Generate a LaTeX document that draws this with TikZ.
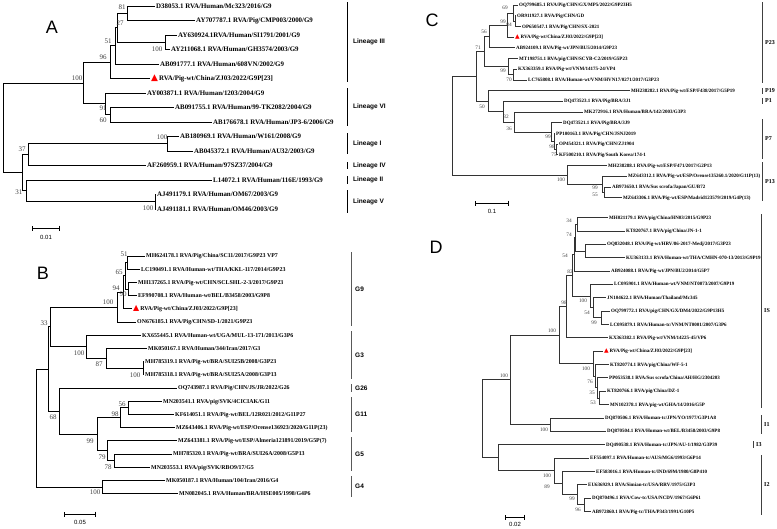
\documentclass[tikz,border=0pt]{standalone}
\usepackage{fontspec}
\setmainfont{Liberation Serif}
\newfontfamily\lsans{Liberation Sans}
\newfontfamily\trifont{DejaVu Sans}
\usetikzlibrary{arrows.meta}

\newcommand{\redtri}[1]{{\trifont\fontsize{#1}{#1}\selectfont\color{red}▲}}

\tikzset{
    branchA/.style = {line width = 1pt},
    branchC/.style = {line width = .7pt, draw = black!80},
    leafA/.style = {anchor = west, inner xsep = 1pt, inner ysep = 0pt, text height = 5.9pt, text depth = 1.4pt, font = \bfseries\fontsize{6.9}{7}\selectfont},
    leafB/.style = {leafA, text height = 5.1pt, text depth = 1.2pt, font = \bfseries\fontsize{5.9}{6}\selectfont},
    leafC/.style = {leafA, text height = 4.3pt, text depth = 1pt, font = \bfseries\fontsize{5}{5}\selectfont},
    bsA/.style = {inner sep = 0pt, text = black!75, font = \fontsize{7}{7}\selectfont},
    bsC/.style = {bsA, font = \fontsize{5.3}{5.3}\selectfont},
    grpA/.style = {anchor = west, inner sep = 0pt, font = \lsans\bfseries\fontsize{6.5}{6.5}\selectfont},
    grpC/.style = {anchor = west, inner sep = 0pt, font = \bfseries\fontsize{6}{6}\selectfont},
    barA/.style = {line width = 1pt},
    barB/.style = {line width = 1pt, draw = black!65},
    barC/.style = {line width = .8pt, draw = black!75},
    scalebar/.style = {{Bar[width = 5pt]}-{Bar[width = 5pt]}, line width = .8pt},
    scaletext/.style = {inner sep = 0pt, font = \lsans\fontsize{6}{6}\selectfont},
    panel/.style = {inner sep = 0pt, font = \lsans\fontsize{18}{18}\selectfont}
}

\begin{document}
\begin{tikzpicture}[x = 1pt, y = -1pt]
    \useasboundingbox (0,0) rectangle (777,528);

    % Panel A: the VP7 lineages
    \node [panel] (pA) at (52,27) {A};

    \node [leafA] (a0)  at (155,6)     {D38053.1 RVA/Human/Mc323/2016/G9};
    \node [leafA] (a1)  at (195,20.5)  {AY707787.1 RVA/Pig/CMP003/2000/G9};
    \node [leafA] (a2)  at (177,35)    {AY630924.1RVA/Human/SI1791/2001/G9};
    \node [leafA] (a3)  at (170,49.5)  {AY211068.1 RVA/Human/GH3574/2003/G9};
    \node [leafA] (a4)  at (159,64)    {AB091777.1 RVA/Human/608VN/2002/G9};
    \node [leafA] (a5)  at (150,78.5)  {\redtri{9}\hspace{1pt}RVA/Pig-wt/China/ZJ03/2022/G9P[23]};
    \node [leafA] (a6)  at (146,93)    {AY003871.1 RVA/Human/1203/2004/G9};
    \node [leafA] (a7)  at (174,107.5) {AB091755.1 RVA/Human/99-TK2082/2004/G9};
    \node [leafA] (a8)  at (212,122)   {AB176678.1 RVA/Human/JP3-6/2006/G9};
    \node [leafA] (a9)  at (179,136.5) {AB180969.1 RVA/Human/W161/2008/G9};
    \node [leafA] (a10) at (193,151)   {AB045372.1 RVA/Human/AU32/2003/G9};
    \node [leafA] (a11) at (146,165.5) {AF260959.1 RVA/Human/97SZ37/2004/G9};
    \node [leafA] (a12) at (212,180)   {L14072.1 RVA/Human/116E/1993/G9};
    \node [leafA] (a13) at (156,194.5) {AJ491179.1 RVA/Human/OM67/2003/G9};
    \node [leafA] (a14) at (156,209)   {AJ491181.1 RVA/Human/OM46/2003/G9};

    \coordinate (nA81)   at (127,13.25);
    \coordinate (nA100b) at (165,42.25);
    \coordinate (nA27)   at (117,27.75);
    \coordinate (nA51)   at (115,45.9);
    \coordinate (nA96)   at (110,62.2);
    \coordinate (nA60)   at (110,114.75);
    \coordinate (nA91)   at (105,103.9);
    \coordinate (nA100)  at (83,83);
    \coordinate (nA100c) at (167,143.75);
    \coordinate (nA37)   at (28,154.6);
    \coordinate (nA100d) at (155,201.75);
    \coordinate (nA31)   at (26,190.9);
    \coordinate (nA0)    at (22,172.75);
    \coordinate (rA)     at (3,127.9);

    \foreach \p/\c in {nA81/a0.west, nA81/a1.west, nA100b/a2.west, nA100b/a3.west,
            nA27/nA81, nA27/nA100b, nA51/nA27, nA51/a4.west, nA96/nA51, nA96/a5.west,
            nA60/a7.west, nA60/a8.west, nA91/a6.west, nA91/nA60, nA100/nA96, nA100/nA91,
            nA100c/a9.west, nA100c/a10.west, nA37/nA100c, nA37/a11.west,
            nA100d/a13.west, nA100d/a14.west, nA31/a12.west, nA31/nA100d,
            nA0/nA37, nA0/nA31, rA/nA100, rA/nA0}
        \draw [branchA] (\p) |- (\c);

    \node [bsA] (bA81)   at (122,7)   {81};
    \node [bsA] (bA27)   at (120,23)  {27};
    \node [bsA] (bA51)   at (108,41)  {51};
    \node [bsA] (bA100b) at (157,49)  {100};
    \node [bsA] (bA96)   at (103,57)  {96};
    \node [bsA] (bA100)  at (77,78)   {100};
    \node [bsA] (bA91)   at (103,108) {91};
    \node [bsA] (bA60)   at (103,120) {60};
    \node [bsA] (bA100c) at (162,137) {100};
    \node [bsA] (bA37)   at (22,149)  {37};
    \node [bsA] (bA31)   at (19,192)  {31};
    \node [bsA] (bA100d) at (148,208) {100};

    \foreach \t/\b/\txt [count = \i] in {2/82/Lineage III, 88/126/Lineage VI, 133/154/Lineage I,
            162/169/Lineage IV, 176/184/Lineage II, 190/213/Lineage V} {
        \draw [barA] (347,\t) -- (347,\b);
        \node [grpA] (gA\i) at (353,{(\t+\b)/2}) {\txt};
    }

    \draw [scalebar] (32,228) -- (60,228);
    \node [scaletext] (sA) at (46,237) {0.01};

    % Panel B: the VP7 genotypes
    \node [panel] (pB) at (43,273) {B};

    \node [leafB] (b0)  at (145,256)   {MH624178.1 RVA/Pig/China/SC11/2017/G9P23 VP7};
    \node [leafB] (b1)  at (140,269.2) {LC190491.1 RVA/Human-wt/THA/KKL-117/2014/G9P23};
    \node [leafB] (b2)  at (137,282.4) {MH137265.1 RVA/Pig-wt/CHN/SCLSHL-2-3/2017/G9P23};
    \node [leafB] (b3)  at (137,295.6) {EF990708.1 RVA/Human-wt/BEL/B3458/2003/G9P8};
    \node [leafB] (b4)  at (132,308.8) {\redtri{8}\hspace{1pt}RVA/Pig-wt/China/ZJ03/2022/G9P[23]};
    \node [leafB] (b5)  at (136,322)   {ON676185.1 RVA/Pig/CHN/SD-1/2021/G9P23};
    \node [leafB] (b6)  at (141,335.2) {KX655445.1 RVA/Human-wt/UGA/MUL-13-171/2013/G3P6};
    \node [leafB] (b7)  at (147,348.4) {MK050167.1 RVA/Human/344/Iran/2017/G3};
    \node [leafB] (b8)  at (144,361.6) {MH785319.1 RVA/Pig-wt/BRA/SUI25B/2008/G3P23};
    \node [leafB] (b9)  at (144,374.8) {MH785318.1 RVA/Pig-wt/BRA/SUI25A/2008/G3P13};
    \node [leafB] (b10) at (177,388)   {OQ743987.1 RVA/Pig/CHN/JS/JR/2022/G26};
    \node [leafB] (b11) at (162,401.2) {MN203541.1 RVA/pig/SVK/4CICIAK/G11};
    \node [leafB] (b12) at (174,414.4) {KF614051.1 RVA/Pig-wt/BEL/12R021/2012/G11P27};
    \node [leafB] (b13) at (175,427.6) {MZ643406.1 RVA/Pig-wt/ESP/Orense136923/2020/G11P(23)};
    \node [leafB] (b14) at (177,440.8) {MZ643381.1 RVA/Pig-wt/ESP/Almeria121891/2019/G5P(7)};
    \node [leafB] (b15) at (172,454)   {MH785320.1 RVA/Pig-wt/BRA/SUI26A/2008/G5P13};
    \node [leafB] (b16) at (150,467.2) {MN203553.1 RVA/pig/SVK/RBO9/17/G5};
    \node [leafB] (b17) at (165,480.4) {MK050187.1 RVA/Human/104/Iran/2016/G4};
    \node [leafB] (b18) at (178,493.6) {MN082045.1 RVA/Human/BRA/HSE005/1998/G4P6};

    \coordinate (nB51)   at (127,262.6);
    \coordinate (nB90)   at (128,289);
    \coordinate (nB65)   at (125,275.8);
    \coordinate (nB94)   at (123,292.3);
    \coordinate (nB100)  at (117,307.15);
    \coordinate (nB100c) at (143,368.2);
    \coordinate (nB87)   at (106,358.3);
    \coordinate (nB100g) at (86,346.75);
    \coordinate (nB33)   at (50,326.95);
    \coordinate (nB56)   at (128,407.8);
    \coordinate (nB98)   at (120,417.7);
    \coordinate (nB78)   at (114,460.6);
    \coordinate (nB79)   at (107,450.7);
    \coordinate (nB99)   at (97,434.2);
    \coordinate (nB68)   at (59,411.1);
    \coordinate (nB0)    at (48,369);
    \coordinate (nB100h) at (102,487);
    \coordinate (rB)     at (36,428);

    \foreach \p/\c in {nB51/b0.west, nB51/b1.west, nB90/b2.west, nB90/b3.west,
            nB65/nB51, nB65/nB90, nB94/nB65, nB94/b4.west, nB100/nB94, nB100/b5.west,
            nB100c/b8.west, nB100c/b9.west, nB87/b7.west, nB87/nB100c,
            nB100g/b6.west, nB100g/nB87, nB33/nB100, nB33/nB100g,
            nB56/b11.west, nB56/b12.west, nB98/nB56, nB98/b13.west,
            nB78/b15.west, nB78/b16.west, nB79/b14.west, nB79/nB78,
            nB99/nB98, nB99/nB79, nB68/b10.west, nB68/nB99, nB0/nB33, nB0/nB68,
            nB100h/b17.west, nB100h/b18.west, rB/nB0, rB/nB100h}
        \draw [branchA] (\p) |- (\c);

    \node [bsA] (bB51)   at (124,254)   {51};
    \node [bsA] (bB65)   at (119,272.3) {65};
    \node [bsA] (bB94)   at (116,288.5) {94};
    \node [bsA] (bB90)   at (123,294.6) {90};
    \node [bsA] (bB100)  at (108,302.7) {100};
    \node [bsA] (bB33)   at (44,323)    {33};
    \node [bsA] (bB100g) at (79,353.5)  {100};
    \node [bsA] (bB87)   at (99,364.6)  {87};
    \node [bsA] (bB100c) at (135,374.8) {100};
    \node [bsA] (bB56)   at (122,404.2) {56};
    \node [bsA] (bB98)   at (115,414.4) {98};
    \node [bsA] (bB68)   at (53,417.4)  {68};
    \node [bsA] (bB99)   at (90,440.8)  {99};
    \node [bsA] (bB79)   at (102,457)   {79};
    \node [bsA] (bB78)   at (108,467.2) {78};
    \node [bsA] (bB100h) at (95,492.6)  {100};

    \foreach \t/\b/\txt [count = \i] in {252/326/G9, 331/379/G3, 384/392/G26,
            397/432/G11, 437/471/G5, 476/497/G4} {
        \draw [barB] (351,\t) -- (351,\b);
        \node [grpA] (gB\i) at (355,{(\t+\b)/2}) {\txt};
    }

    \draw [scalebar] (64,514) -- (96,514);
    \node [scaletext] (sB) at (80,522) {0.05};

    % Panel C: the VP4 genotypes
    \node [panel] (pC) at (432,20) {C};

    \node [leafC] (c0)  at (518,5)     {OQ799685.1 RVA/Pig/CHN/GX/MP5/2022/G9P23H5};
    \node [leafC] (c1)  at (516,15.7)  {OR911927.1 RVA/Pig/CHN/GD};
    \node [leafC] (c2)  at (521,26.4)  {OP650547.1 RVA/Pig/CHN/SX-2021};
    \node [leafC] (c3)  at (514,37.1)  {\redtri{6}\hspace{.8pt}RVA/Pig-wt/China/ZJ03/2022/G9P[23]};
    \node [leafC] (c4)  at (515,47.8)  {AB924109.1 RVA/Pig-wt/JPN/BU5/2014/G9P23};
    \node [leafC] (c5)  at (518,58.5)  {MT198751.1 RVA/pig/CHN/SCYB-C2/2019/G5P23};
    \node [leafC] (c6)  at (517,69.2)  {KX363359.1 RVA/Pig-wt/VNM/14175-24/VP4};
    \node [leafC] (c7)  at (527,79.9)  {LC765808.1 RVA/Human-wt/VNM/HVN17/0271/2017/G3P23};
    \node [leafC] (c8)  at (630,90.6)  {MH238282.1 RVA/Pig-wt/ESP/F438/2017/G5P19};
    \node [leafC] (c9)  at (563,101.3) {DQ473523.1 RVA/Pig/BRA/3J1};
    \node [leafC] (c10) at (583,112)   {MK272916.1 RVA/Human/BRA/142/2003/G3P3};
    \node [leafC] (c11) at (562,122.7) {DQ473521.1 RVA/Pig/BRA/3J9};
    \node [leafC] (c12) at (555,133.4) {PP100163.1 RVA/Pig/CHN/JSNJ2019};
    \node [leafC] (c13) at (558,144.1) {OP454321.1 RVA/Pig/CHN/ZJ1904};
    \node [leafC] (c14) at (558,154.8) {KF500210.1 RVA/Pig/South Korea/174-1};
    \node [leafC] (c15) at (607,165.5) {MH238288.1 RVA/Pig-wt/ESP/F471/2017/G2P13};
    \node [leafC] (c16) at (627,176.2) {MZ643312.1 RVA/Pig-wt/ESP/Orense135260.1/2020/G11P(13)};
    \node [leafC] (c17) at (611,186.9) {AB973650.1 RVA/Sus scrofa/Japan/GU/B72};
    \node [leafC] (c18) at (622,197.6) {MZ643306.1 RVA/Pig-wt/ESP/Madrid123579/2019/G4P(13)};

    \coordinate (nC84)  at (515,21.05);
    \coordinate (nC69)  at (513,13);
    \coordinate (nC99a) at (507,25.05);
    \coordinate (nC56)  at (489,36.4);
    \coordinate (nC70)  at (513,74.55);
    \coordinate (nC99b) at (508,66.5);
    \coordinate (nC71)  at (484,51.5);
    \coordinate (nC75)  at (556,149.45);
    \coordinate (nC98)  at (554,141.4);
    \coordinate (nC99c) at (551,132.05);
    \coordinate (nC36)  at (514,122);
    \coordinate (nC32)  at (503,111.65);
    \coordinate (nC50)  at (488,101.1);
    \coordinate (nCt)   at (476,76.3);
    \coordinate (nC55)  at (604,192.25);
    \coordinate (nC99d) at (602,184.2);
    \coordinate (nC100) at (567,174.85);
    \coordinate (rC)    at (452,125.6);

    \foreach \p/\c in {nC84/c1.west, nC84/c2.west, nC69/c0.west, nC69/nC84,
            nC99a/nC69, nC99a/c3.west, nC56/nC99a, nC56/c4.west,
            nC70/c6.west, nC70/c7.west, nC99b/c5.west, nC99b/nC70, nC71/nC56, nC71/nC99b,
            nC75/c13.west, nC75/c14.west, nC98/c12.west, nC98/nC75, nC99c/c11.west, nC99c/nC98,
            nC36/c10.west, nC36/nC99c, nC32/c9.west, nC32/nC36, nC50/c8.west, nC50/nC32,
            nCt/nC71, nCt/nC50, nC55/c17.west, nC55/c18.west, nC99d/c16.west, nC99d/nC55,
            nC100/c15.west, nC100/nC99d, rC/nCt, rC/nC100}
        \draw [branchC] (\p) |- (\c);

    \node [bsC] (bC69)  at (505,8)   {69};
    \node [bsC] (bC99a) at (503,22)  {99};
    \node [bsC] (bC84)  at (509,25)  {84};
    \node [bsC] (bC56)  at (484,32)  {56};
    \node [bsC] (bC71)  at (478,48)  {71};
    \node [bsC] (bC99b) at (503,71)  {99};
    \node [bsC] (bC70)  at (509,80)  {70};
    \node [bsC] (bC50)  at (482,107) {50};
    \node [bsC] (bC32)  at (506,117) {32};
    \node [bsC] (bC36)  at (509,129) {36};
    \node [bsC] (bC99c) at (548,137) {99};
    \node [bsC] (bC98)  at (552,147) {98};
    \node [bsC] (bC75)  at (554,155) {75};
    \node [bsC] (bC100) at (561,180) {100};
    \node [bsC] (bC99d) at (595,188) {99};
    \node [bsC] (bC55)  at (595,195) {55};

    \foreach \t/\b/\txt [count = \i] in {2/83/P23, 88/94/P19, 98/104/P1, 119/159/P7, 162/201/P13} {
        \draw [barC] (762,\t) -- (762,\b);
        \node [grpC] (gC\i) at (765,{(\t+\b)/2}) {\txt};
    }

    \draw [scalebar] (475,203) -- (509,203);
    \node [scaletext] (sC) at (492,211) {0.1};

    % Panel D: the VP6 genotypes
    \node [panel] (pD) at (436,247) {D};

    \node [leafC] (d0)  at (608,217.5) {MH021179.1 RVA/pig/China/HN03/2015/G9P23};
    \node [leafC] (d1)  at (625,230.9) {KT820767.1 RVA/pig/China/JN-1-1};
    \node [leafC] (d2)  at (606,244.2) {OQ832048.1 RVA/Pig-wt/HRV/86-2017-Medj/2017/G3P23};
    \node [leafC] (d3)  at (625,257.6) {KU363133.1 RVA/Human-wt/THA/CMHN-070-13/2013/G9P19};
    \node [leafC] (d4)  at (610,270.9) {AB924088.1 RVA/Pig-wt/JPN/BU2/2014/G5P7};
    \node [leafC] (d5)  at (613,284.3) {LC095901.1 RVA/Human-wt/VNM/NT0073/2007/G9P19};
    \node [leafC] (d6)  at (606,297.7) {JN104622.1 RVA/Human/Thailand/Mc345};
    \node [leafC] (d7)  at (610,311)   {OQ799772.1 RVA/pig/CHN/GX/DM4/2022/G9P13H5};
    \node [leafC] (d8)  at (609,324.4) {LC095879.1 RVA/Human-tc/VNM/NT0001/2007/G3P6};
    \node [leafC] (d9)  at (608,337.7) {KX363382.1 RVA/Pig-wt/VNM/14225-45/VP6};
    \node [leafC] (d10) at (603,351.1) {\redtri{6}\hspace{.8pt}RVA/Pig-wt/China/ZJ03/2022/G9P[23]};
    \node [leafC] (d11) at (609,364.5) {KT820774.1 RVA/pig/China/WF-5-1};
    \node [leafC] (d12) at (608,377.8) {PP053538.1 RVA/Sus scrofa/China/AH/HG/2304203};
    \node [leafC] (d13) at (606,391.2) {KT820766.1 RVA/pig/China/DZ-1};
    \node [leafC] (d14) at (609,404.5) {MN102378.1 RVA/pig-wt/GHA/14/2016/G5P};
    \node [leafC] (d15) at (604,417.9) {DQ870506.1 RVA/Human-tc/JPN/YO/1977/G3P1A8};
    \node [leafC] (d16) at (606,431.3) {DQ870504.1 RVA/Human-wt/BEL/B3458/2003/G9P8};
    \node [leafC] (d17) at (605,444.6) {DQ490538.1 RVA/Human-tc/JPN/AU-1/1982/G3P39};
    \node [leafC] (d18) at (589,458)   {EF554097.1 RVA/Human-tc/AUS/MG6/1993/G6P14};
    \node [leafC] (d19) at (595,471.4) {EF583016.1 RVA/Human-tc/IND/69M/1980/G8P410};
    \node [leafC] (d20) at (587,484.8) {EU636929.1 RVA/Simian-tc/USA/RRV/1975/G3P3};
    \node [leafC] (d21) at (591,498.1) {DQ870496.1 RVA/Cow-tc/USA/NCDV/1967/G6P61};
    \node [leafC] (d22) at (591,511.5) {AB972860.1 RVA/Pig-tc/THA/P343/1991/G10P5};

    \coordinate (nD34)   at (577,224.2);
    \coordinate (nD62)   at (585,250.9);
    \coordinate (nD74)   at (575,237.55);
    \coordinate (nD54)   at (574,254.2);
    \coordinate (nD99a)  at (601,317.7);
    \coordinate (nD54b)  at (593,307.7);
    \coordinate (nD100a) at (590,296);
    \coordinate (nD82)   at (572,275.1);
    \coordinate (nD98)   at (566,306.4);
    \coordinate (nD53)   at (599,397.85);
    \coordinate (nD35)   at (597,387.8);
    \coordinate (nD76)   at (595,376.2);
    \coordinate (nD100z) at (593,363.6);
    \coordinate (nDIS)   at (559,335);
    \coordinate (nDI1)   at (550,424.6);
    \coordinate (nD100r) at (510,379.8);
    \coordinate (nD96)   at (584,504.8);
    \coordinate (nD99)   at (577,494.8);
    \coordinate (nD89)   at (562,483.1);
    \coordinate (nD100i) at (554,470.5);
    \coordinate (nDI3)   at (498,457.6);
    \coordinate (rD)     at (482,418.7);

    \foreach \p/\c in {nD34/d0.west, nD34/d1.west, nD62/d2.west, nD62/d3.west,
            nD74/nD34, nD74/nD62, nD54/nD74, nD54/d4.west,
            nD99a/d7.west, nD99a/d8.west, nD54b/d6.west, nD54b/nD99a,
            nD100a/d5.west, nD100a/nD54b, nD82/nD54, nD82/nD100a, nD98/nD82, nD98/d9.west,
            nD53/d13.west, nD53/d14.west, nD35/d12.west, nD35/nD53, nD76/d11.west, nD76/nD35,
            nD100z/d10.west, nD100z/nD76, nDIS/nD98, nDIS/nD100z,
            nDI1/d15.west, nDI1/d16.west, nD100r/nDIS, nD100r/nDI1,
            nD96/d21.west, nD96/d22.west, nD99/d20.west, nD99/nD96, nD89/d19.west, nD89/nD99,
            nD100i/d18.west, nD100i/nD89, nDI3/d17.west, nDI3/nD100i, rD/nD100r, rD/nDI3}
        \draw [branchC] (\p) |- (\c);

    \node [bsC] (bD34)   at (569,221) {34};
    \node [bsC] (bD74)   at (569,235) {74};
    \node [bsC] (bD54)   at (565,256) {54};
    \node [bsC] (bD82)   at (570,272) {82};
    \node [bsC] (bD100a) at (583,301) {100};
    \node [bsC] (bD98)   at (564,303) {98};
    \node [bsC] (bD54b)  at (587,313) {54};
    \node [bsC] (bD99a)  at (594,323) {99};
    \node [bsC] (bDIS)   at (552,331) {100};
    \node [bsC] (bD100z) at (586,369) {100};
    \node [bsC] (bD76)   at (590,382) {76};
    \node [bsC] (bD35)   at (592,393) {35};
    \node [bsC] (bD53)   at (593,403) {53};
    \node [bsC] (bD100r) at (504,376) {100};
    \node [bsC] (bDI1)   at (544,430) {100};
    \node [bsC] (bD100i) at (547,476) {100};
    \node [bsC] (bD89)   at (547,487) {89};
    \node [bsC] (bD99)   at (572,499) {99};
    \node [bsC] (bD96)   at (578,510) {96};

    \foreach \x/\t/\b/\txt [count = \i] in {761/214/408/IS, 761/415/434/I1, 753/441/448/I3, 761/455/515/I2} {
        \draw [barC] (\x,\t) -- (\x,\b);
        \node [grpC] (gD\i) at (\x+3,{(\t+\b)/2}) {\txt};
    }

    \draw [scalebar] (505,517) -- (525,517);
    \node [scaletext] (sD) at (515,524) {0.02};
\end{tikzpicture}
\end{document}
